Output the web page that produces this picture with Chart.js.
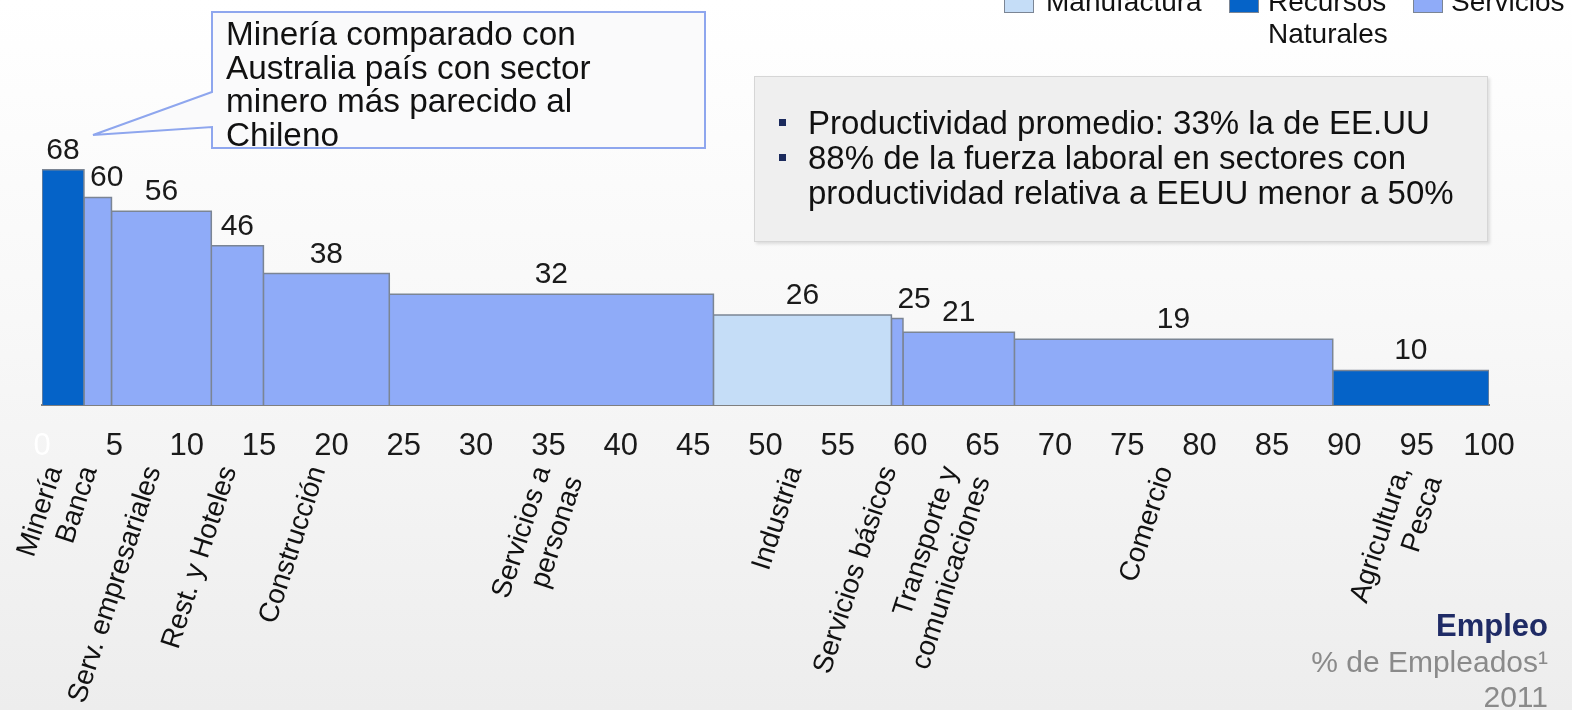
<!DOCTYPE html>
<html>
<head>
<meta charset="utf-8">
<script src="https://cdn.jsdelivr.net/npm/chart.js@4.4.1/dist/chart.umd.min.js"></script>
<style>
html, body { margin: 0; padding: 0; }
body {
    width: 1572px; height: 710px; overflow: hidden; position: relative;
    font-family: "Liberation Sans", Arial, sans-serif;
    background: linear-gradient(#ffffff 0%, #f8f8f8 45%, #ededed 100%);
}
#myChart { position: absolute; left: 0; top: 0; }
.leg { position: absolute; font-size: 28px; line-height: 32px; color: #111; }
.sw { position: absolute; width: 30px; height: 26px; border: 1px solid #7b8594; box-sizing: border-box; }
#callout { position: absolute; left: 0; top: 0; }
.callText { position: absolute; left: 226px; top: 17px; font-size: 33.3px; line-height: 33.5px; color: #111; }
.infoBox {
    position: absolute; left: 754px; top: 76px; width: 734px; height: 166px; box-sizing: border-box;
    background: #efefef; border: 1px solid #d6d6d6; box-shadow: 2px 2px 3px rgba(0,0,0,0.12);
}
.infoBox ul { list-style: none; margin: 0; padding: 0; position: absolute; left: 53px; top: 28px; font-size: 33px; line-height: 35px; color: #111; }
.infoBox li { position: relative; }
.infoBox li::before { content: ""; position: absolute; left: -29px; top: 14px; width: 7px; height: 7px; background: #1b2a5c; }
.note { position: absolute; right: 24px; text-align: right; font-size: 30px; line-height: 34px; color: #8a8a8a; }
</style>
</head>
<body>
<canvas id="myChart" width="1572" height="710"></canvas>

<!-- legend -->
<div class="sw" style="left:1004px; top:-13px; background:#c5ddf7;"></div>
<div class="leg" style="left:1046px; top:-14px;">Manufactura</div>
<div class="sw" style="left:1229px; top:-13px; background:#0563c8;"></div>
<div class="leg" style="left:1268px; top:-14px;">Recursos<br>Naturales</div>
<div class="sw" style="left:1413px; top:-13px; background:#8fabf8;"></div>
<div class="leg" style="left:1451px; top:-14px;">Servicios</div>

<!-- callout -->
<svg id="callout" width="720" height="160">
  <path d="M212 12 L705 12 L705 148 L212 148 L212 127 L93 135 L212 92 Z" fill="rgba(250,250,251,0.9)" stroke="#8ea6ee" stroke-width="2"/>
</svg>
<div class="callText">Minería comparado con<br>Australia país con sector<br>minero más parecido al<br>Chileno</div>

<div class="infoBox">
  <ul>
    <li>Productividad promedio: 33% la de EE.UU</li>
    <li>88% de la fuerza laboral en sectores con<br>productividad relativa a EEUU menor a 50%</li>
  </ul>
</div>

<div class="note" style="top:609px; color:#1f2b66; font-weight:bold; font-size:31px;">Empleo</div>
<div class="note" style="top:645px;">% de Empleados¹</div>
<div class="note" style="top:680px;">2011</div>

<script>
// Productividad relativa a EE.UU. por sector (Chile 2011)
const sectors = ['Minería', 'Banca', 'Serv. empresariales', 'Rest. y Hoteles', 'Construcción',
    ['Servicios a', 'personas'], 'Industria', 'Servicios básicos', ['Transporte y', 'comunicaciones'],
    'Comercio', ['Agricultura,', 'Pesca']];
const employShare = [2.9, 1.9, 6.9, 3.6, 8.7, 22.4, 12.3, 0.8, 7.7, 22.0, 10.8];
const productivity = [68, 60, 56, 46, 38, 32, 26, 25, 21, 19, 10];
const sectorGroup = ['rn', 's', 's', 's', 's', 's', 'm', 's', 's', 's', 'rn'];
const xTicks = [0, 5, 10, 15, 20, 25, 30, 35, 40, 45, 50, 55, 60, 65, 70, 75, 80, 85, 90, 95, 100];

const groupColors = { m: '#c5ddf7', rn: '#0563c8', s: '#8fabf8' };
const fontFam = '"Liberation Sans", Arial, sans-serif';

// bar edges from the employment shares
const starts = [], ends = [], mids = [];
let acc = 0;
employShare.forEach(w => {
    starts.push(acc);
    ends.push(acc + w);
    mids.push(acc + w / 2);
    acc += w;
});

const datasets = sectors.map((name, i) => ({
    label: Array.isArray(name) ? name.join(' ') : name,
    data: [
        { x: starts[i], y: 0 },
        { x: starts[i], y: productivity[i] },
        { x: ends[i], y: productivity[i] },
        { x: ends[i], y: 0 }
    ],
    fill: 'origin',
    backgroundColor: groupColors[sectorGroup[i]],
    borderColor: '#7b8594',
    borderWidth: 1.5,
    pointRadius: 0,
    tension: 0
}));

// value labels above each bar
const valueLabels = {
    id: 'valueLabels',
    afterDatasetsDraw(chart) {
        const ctx = chart.ctx;
        const xs = chart.scales.x, ys = chart.scales.y;
        ctx.save();
        ctx.font = '30px ' + fontFam;
        ctx.fillStyle = '#1a1a1a';
        ctx.textBaseline = 'alphabetic';
        productivity.forEach((v, i) => {
            const left = xs.getPixelForValue(starts[i]);
            const right = xs.getPixelForValue(ends[i]);
            const y = ys.getPixelForValue(v) - 11;
            if (right - left < 35) {
                ctx.textAlign = 'left';
                ctx.fillText(String(v), left + 6, y);
            } else {
                ctx.textAlign = 'center';
                ctx.fillText(String(v), (left + right) / 2, y);
            }
        });
        ctx.restore();
    }
};

var ctx = document.getElementById('myChart').getContext('2d');

var myChart = new Chart(ctx, {
    type: 'line',
    data: { datasets: datasets },
    plugins: [valueLabels],
    options: {
        responsive: false,
        animation: false,
        layout: { padding: { left: 42, right: 83, top: 59, bottom: 0 } },
        plugins: {
            legend: { display: false },
            tooltip: { enabled: false }
        },
        scales: {
            x: {
                type: 'linear', min: 0, max: 100, position: 'bottom', weight: 0,
                afterBuildTicks: s => { s.ticks = xTicks.map(v => ({ value: v })); },
                afterFit: s => { s.height = 57; },
                grid: { display: false, drawTicks: false },
                border: { display: true, color: '#7f7f7f', width: 2 },
                ticks: {
                    autoSkip: false, maxRotation: 0, padding: 23,
                    font: { size: 31, family: fontFam },
                    color: c => (c.tick && c.tick.value === 0) ? '#ffffff' : '#1a1a1a'
                }
            },
            xc: {
                type: 'linear', min: 0, max: 100, position: 'bottom', weight: 1,
                afterBuildTicks: s => { s.ticks = mids.map(v => ({ value: v })); },
                afterFit: s => { s.height = 248; },
                grid: { display: false, drawTicks: false },
                border: { display: false },
                ticks: {
                    autoSkip: false, minRotation: 72, maxRotation: 72, padding: 0, labelOffset: -8,
                    font: { size: 28, family: fontFam },
                    color: '#111',
                    callback: (v, i) => sectors[i]
                }
            },
            y: { display: false, min: 0, max: 100 }
        }
    }
});
</script>
</body>
</html>
